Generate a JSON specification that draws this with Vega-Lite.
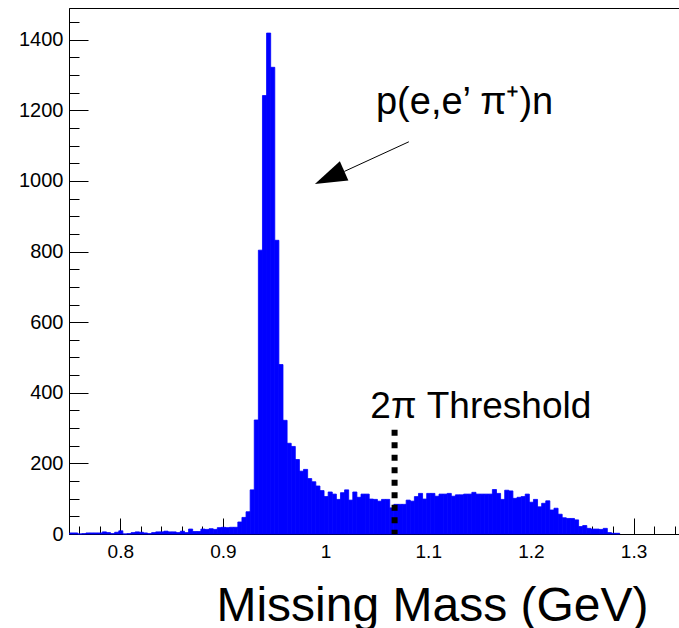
{
  "$schema": "https://vega.github.io/schema/vega-lite/v6.json",
  "width": 610,
  "height": 526,
  "autosize": {"type": "none"},
  "padding": {"left": 69, "top": 8, "right": 0, "bottom": 94},
  "background": "white",
  "config": {
    "view": {"stroke": "black", "strokeWidth": 1},
    "axis": {"grid": false, "labelFont": "Liberation Sans", "titleFont": "Liberation Sans", "labelColor": "black", "titleColor": "black", "domainColor": "black", "tickColor": "black", "tickWidth": 1, "domainWidth": 1}
  },
  "datasets": {
    "hist": [
      {"x":0.75,"n":3},{"x":0.754,"n":3},{"x":0.758,"n":0},{"x":0.762,"n":1},{"x":0.766,"n":3},{"x":0.77,"n":3},{"x":0.774,"n":3},{"x":0.778,"n":3},{"x":0.782,"n":6},{"x":0.786,"n":4},
      {"x":0.79,"n":1},{"x":0.794,"n":5},{"x":0.798,"n":9},{"x":0.802,"n":0},{"x":0.806,"n":1},{"x":0.81,"n":4},{"x":0.814,"n":6},{"x":0.818,"n":5},{"x":0.822,"n":3},{"x":0.826,"n":1},
      {"x":0.83,"n":4},{"x":0.834,"n":6},{"x":0.838,"n":6},{"x":0.842,"n":8},{"x":0.846,"n":6},{"x":0.85,"n":6},{"x":0.854,"n":4},{"x":0.858,"n":8},{"x":0.862,"n":4},{"x":0.866,"n":14},
      {"x":0.87,"n":7},{"x":0.874,"n":7},{"x":0.878,"n":14},{"x":0.882,"n":13},{"x":0.886,"n":15},{"x":0.89,"n":13},{"x":0.894,"n":18},{"x":0.898,"n":19},{"x":0.902,"n":18},{"x":0.906,"n":19},
      {"x":0.91,"n":19},{"x":0.914,"n":34},{"x":0.918,"n":47},{"x":0.922,"n":63},{"x":0.926,"n":125},{"x":0.93,"n":323},{"x":0.934,"n":804},{"x":0.938,"n":1242},{"x":0.942,"n":1419},{"x":0.946,"n":1322},
      {"x":0.95,"n":832},{"x":0.954,"n":480},{"x":0.958,"n":322},{"x":0.962,"n":257},{"x":0.966,"n":248},{"x":0.97,"n":211},{"x":0.974,"n":178},{"x":0.978,"n":183},{"x":0.982,"n":157},{"x":0.986,"n":148},
      {"x":0.99,"n":136},{"x":0.994,"n":123},{"x":0.998,"n":106},{"x":1.002,"n":119},{"x":1.006,"n":113},{"x":1.01,"n":98},{"x":1.014,"n":117},{"x":1.018,"n":125},{"x":1.022,"n":96},{"x":1.026,"n":119},
      {"x":1.03,"n":104},{"x":1.034,"n":113},{"x":1.038,"n":113},{"x":1.042,"n":99},{"x":1.046,"n":98},{"x":1.05,"n":93},{"x":1.054,"n":98},{"x":1.058,"n":98},{"x":1.062,"n":74},{"x":1.066,"n":84},
      {"x":1.07,"n":84},{"x":1.074,"n":84},{"x":1.078,"n":96},{"x":1.082,"n":93},{"x":1.086,"n":106},{"x":1.09,"n":115},{"x":1.094,"n":99},{"x":1.098,"n":115},{"x":1.102,"n":115},{"x":1.106,"n":107},
      {"x":1.11,"n":113},{"x":1.114,"n":113},{"x":1.118,"n":115},{"x":1.122,"n":107},{"x":1.126,"n":111},{"x":1.13,"n":111},{"x":1.134,"n":113},{"x":1.138,"n":113},{"x":1.142,"n":118},{"x":1.146,"n":113},
      {"x":1.15,"n":113},{"x":1.154,"n":113},{"x":1.158,"n":113},{"x":1.162,"n":126},{"x":1.166,"n":115},{"x":1.17,"n":98},{"x":1.174,"n":124},{"x":1.178,"n":122},{"x":1.182,"n":101},{"x":1.186,"n":104},
      {"x":1.19,"n":106},{"x":1.194,"n":113},{"x":1.198,"n":90},{"x":1.202,"n":98},{"x":1.206,"n":77},{"x":1.21,"n":87},{"x":1.214,"n":94},{"x":1.218,"n":68},{"x":1.222,"n":73},{"x":1.226,"n":56},
      {"x":1.23,"n":46},{"x":1.234,"n":44},{"x":1.238,"n":44},{"x":1.242,"n":40},{"x":1.246,"n":21},{"x":1.25,"n":24},{"x":1.254,"n":16},{"x":1.258,"n":14},{"x":1.262,"n":14},{"x":1.266,"n":13},
      {"x":1.27,"n":16},{"x":1.274,"n":4},{"x":1.278,"n":2},{"x":1.282,"n":2}
    ]
  },
  "layer": [
    {
      "data": {"name": "hist"},
      "mark": {"type": "bar", "fill": "#0000ff", "stroke": "#0000ff", "strokeWidth": 0.8, "binSpacing": 0},
      "encoding": {
        "x": {"field": "x", "type": "quantitative", "bin": {"binned": true, "step": 0.004},
          "scale": {"domain": [0.75, 1.3443], "nice": false, "zero": false},
          "axis": {"orient": "bottom", "values": [0.8, 0.9, 1, 1.1, 1.2, 1.3], "format": "~g", "ticks": false, "labelFontSize": 19, "labelPadding": 8, "labelFlush": false, "labelOverlap": false, "domain": true,
            "title": "Missing Mass (GeV)", "titleFontSize": 48, "titleFontWeight": "normal", "titleX": 579, "titleY": 86, "titleAlign": "right", "titleBaseline": "alphabetic"}},
        "y": {"field": "n", "type": "quantitative",
          "scale": {"domain": [0, 1490], "nice": false},
          "axis": {"orient": "left", "values": [0, 200, 400, 600, 800, 1000, 1200, 1400], "format": "d", "ticks": false, "labelFontSize": 20, "labelPadding": 6, "labelFlush": false, "labelOverlap": false, "title": null}}
      }
    },
    {
      "data": {"values": [{"x": 1.0672, "top": 295, "bottom": 0}]},
      "mark": {"type": "rule", "color": "black", "strokeWidth": 6, "strokeDash": [6, 6.5], "strokeCap": "butt"},
      "encoding": {
        "x": {"field": "x", "type": "quantitative",
          "axis": {"orient": "bottom", "values": [0.76, 0.78, 0.82, 0.84, 0.86, 0.88, 0.92, 0.94, 0.96, 0.98, 1.02, 1.04, 1.06, 1.08, 1.12, 1.14, 1.16, 1.18, 1.22, 1.24, 1.26, 1.28, 1.32, 1.34], "labels": false, "domain": false, "tickSize": -8, "title": null}},
        "y": {"field": "top", "type": "quantitative",
          "axis": {"orient": "left", "values": [50, 100, 150, 250, 300, 350, 450, 500, 550, 650, 700, 750, 850, 900, 950, 1050, 1100, 1150, 1250, 1300, 1350, 1450], "labels": false, "domain": false, "tickSize": -10, "title": null}},
        "y2": {"field": "bottom"}
      }
    },
    {
      "data": {"values": [{"x": 1.0811, "y": 1111, "x2": 1.0182, "y2": 1027}]},
      "mark": {"type": "rule", "color": "black", "strokeWidth": 1},
      "encoding": {
        "x": {"field": "x", "type": "quantitative",
          "axis": {"orient": "bottom", "values": [0.8, 0.9, 1, 1.1, 1.2, 1.3], "labels": false, "domain": false, "tickSize": -16, "title": null}},
        "y": {"field": "y", "type": "quantitative",
          "axis": {"orient": "left", "values": [0, 200, 400, 600, 800, 1000, 1200, 1400], "labels": false, "domain": false, "tickSize": -19, "title": null}},
        "x2": {"field": "x2"},
        "y2": {"field": "y2"}
      }
    },
    {
      "data": {"values": [{"x": 1.0038, "y": 1010}]},
      "mark": {"type": "point", "shape": "M0,-1L0.656,1L-0.656,1Z", "size": 1024, "angle": 246, "filled": true, "color": "black", "opacity": 1, "strokeWidth": 0},
      "encoding": {
        "x": {"field": "x", "type": "quantitative", "axis": null},
        "y": {"field": "y", "type": "quantitative", "axis": null}
      }
    },
    {
      "data": {"values": [{"x": 1.1354, "y": 1191, "label": "p(e,e’ π⁺)n"}]},
      "mark": {"type": "text", "font": "Liberation Sans", "fontSize": 38, "align": "center", "baseline": "alphabetic", "color": "black"},
      "encoding": {
        "x": {"field": "x", "type": "quantitative", "axis": null},
        "y": {"field": "y", "type": "quantitative", "axis": null},
        "text": {"field": "label"}
      }
    },
    {
      "data": {"values": [{"x": 1.1512, "y": 330, "label": "2π Threshold"}]},
      "mark": {"type": "text", "font": "Liberation Sans", "fontSize": 37, "align": "center", "baseline": "alphabetic", "color": "black"},
      "encoding": {
        "x": {"field": "x", "type": "quantitative", "axis": null},
        "y": {"field": "y", "type": "quantitative", "axis": null},
        "text": {"field": "label"}
      }
    }
  ],
  "resolve": {"axis": {"x": "independent", "y": "independent"}}
}
